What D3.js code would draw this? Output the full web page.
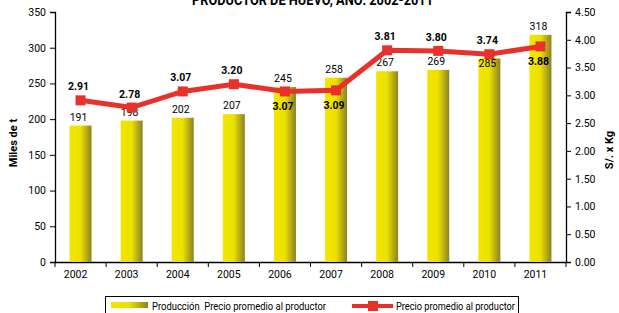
<!DOCTYPE html>
<html>
<head>
<meta charset="utf-8">
<script src="https://cdn.jsdelivr.net/npm/d3@7"></script>
<style>
  body { margin: 0; background: #fff; }
  svg text { font-family: Roboto, "Liberation Sans", sans-serif; white-space: pre; }
</style>
</head>
<body>
<div id="chart"></div>
<script>
// Data
var years = ["2002", "2003", "2004", "2005", "2006", "2007", "2008", "2009", "2010", "2011"];
var produccion = [191, 198, 202, 207, 245, 258, 267, 269, 285, 318];
var precio = [2.91, 2.78, 3.07, 3.20, 3.07, 3.09, 3.81, 3.80, 3.74, 3.88];
var precioLabelBelow = [false, false, false, false, true, true, false, false, false, true];
var barLabelInside = [false, false, false, false, false, false, false, false, true, false];
var leftTicks = [0, 50, 100, 150, 200, 250, 300, 350];
var rightTicks = [0, 0.5, 1, 1.5, 2, 2.5, 3, 3.5, 4, 4.5];

var svgWidth = 619;
var svgHeight = 313;

var margin = { top: 12, right: 53, bottom: 51, left: 55 };
var chartWidth = svgWidth - margin.left - margin.right;
var chartHeight = svgHeight - margin.top - margin.bottom;

var svg = d3.select("#chart")
  .append("svg")
  .attr("width", svgWidth)
  .attr("height", svgHeight);

// bar gradient: yellow to olive
var defs = svg.append("defs");
var grad = defs.append("linearGradient")
  .attr("id", "barGrad")
  .attr("x1", "0%").attr("x2", "100%").attr("y1", "0%").attr("y2", "0%");
grad.append("stop").attr("offset", "0%").attr("stop-color", "#f2e600");
grad.append("stop").attr("offset", "50%").attr("stop-color", "#ece000");
grad.append("stop").attr("offset", "100%").attr("stop-color", "#8c8124");

var chartGroup = svg.append("g")
  .attr("transform", `translate(${margin.left}, ${margin.top})`);

var xScale = d3.scaleBand()
  .domain(years)
  .range([0, chartWidth])
  .paddingInner(0.57)
  .paddingOuter(0.285);

var yLeft = d3.scaleLinear().domain([0, 350]).range([chartHeight, 0]);
var yRight = d3.scaleLinear().domain([0, 4.5]).range([chartHeight, 0]);

// axes
var bottomAxis = d3.axisBottom(xScale).tickSize(0).tickPadding(9);
var leftAxis = d3.axisLeft(yLeft).tickValues(leftTicks).tickSize(5).tickPadding(4);
var rightAxis = d3.axisRight(yRight).tickValues(rightTicks).tickSize(5).tickPadding(4)
  .tickFormat(d3.format(".2f"));

var xAxis = chartGroup.append("g")
  .attr("transform", `translate(0, ${chartHeight})`)
  .call(bottomAxis);
xAxis.selectAll("text").attr("dx", -5);

// x ticks between categories
chartGroup.append("g").selectAll("line")
  .data(d3.range(years.length + 1))
  .enter()
  .append("line")
  .attr("x1", d => d * chartWidth / years.length)
  .attr("x2", d => d * chartWidth / years.length)
  .attr("y1", chartHeight)
  .attr("y2", chartHeight + 5)
  .attr("stroke", "#000");

chartGroup.append("g").call(leftAxis);
chartGroup.append("g")
  .attr("transform", `translate(${chartWidth}, 0)`)
  .call(rightAxis);

chartGroup.selectAll(".domain").attr("stroke", "#000").attr("stroke-width", 1.3);
chartGroup.selectAll(".tick line").attr("stroke", "#000");
chartGroup.selectAll(".tick text").attr("font-size", 10.5).attr("fill", "#000");

// bars
chartGroup.selectAll(".bar")
  .data(produccion)
  .enter()
  .append("rect")
  .attr("class", "bar")
  .attr("x", (d, i) => xScale(years[i]))
  .attr("y", d => yLeft(d))
  .attr("width", xScale.bandwidth())
  .attr("height", d => chartHeight - yLeft(d))
  .attr("fill", "url(#barGrad)");

// bar labels
chartGroup.selectAll(".barLabel")
  .data(produccion)
  .enter()
  .append("text")
  .attr("class", "barLabel")
  .attr("text-anchor", "middle")
  .attr("font-size", 10.5)
  .attr("x", (d, i) => xScale(years[i]) + xScale.bandwidth() / 2 - 2)
  .attr("y", (d, i) => barLabelInside[i] ? yLeft(d) + 9 : yLeft(d) - 5)
  .text(d => d);

// price line
var line = d3.line()
  .x((d, i) => xScale(years[i]) + xScale.bandwidth() / 2)
  .y(d => yRight(d));

chartGroup.append("path")
  .datum(precio)
  .attr("fill", "none")
  .attr("stroke", "#e8312b")
  .attr("stroke-width", 5)
  .attr("d", line);

chartGroup.selectAll(".marker")
  .data(precio)
  .enter()
  .append("rect")
  .attr("class", "marker")
  .attr("x", (d, i) => xScale(years[i]) + xScale.bandwidth() / 2 - 5)
  .attr("y", d => yRight(d) - 5)
  .attr("width", 10)
  .attr("height", 10)
  .attr("fill", "#e8312b");

chartGroup.selectAll(".priceLabel")
  .data(precio)
  .enter()
  .append("text")
  .attr("class", "priceLabel")
  .attr("text-anchor", "middle")
  .attr("font-size", 10.5)
  .attr("font-weight", "bold")
  .attr("x", (d, i) => xScale(years[i]) + xScale.bandwidth() / 2 - 2)
  .attr("y", (d, i) => precioLabelBelow[i] ? yRight(d) + 19 : yRight(d) - 10)
  .text(d => d3.format(".2f")(d));

// title (cut off at the top, as in the original)
svg.append("text")
  .attr("x", 192)
  .attr("y", 5)
  .attr("font-size", 14)
  .attr("font-weight", "bold")
  .attr("textLength", 241)
  .attr("lengthAdjust", "spacingAndGlyphs")
  .text("PRODUCTOR DE HUEVO, AÑO: 2002-2011");

// axis titles
svg.append("text")
  .attr("transform", "rotate(-90)")
  .attr("x", -143)
  .attr("y", 17)
  .attr("text-anchor", "middle")
  .attr("font-size", 11)
  .attr("font-weight", "bold")
  .text("Miles de t");

svg.append("text")
  .attr("transform", "rotate(-90)")
  .attr("x", -150)
  .attr("y", 613)
  .attr("text-anchor", "middle")
  .attr("font-size", 11)
  .attr("font-weight", "bold")
  .text("S/. x Kg");

// legend
var legend = svg.append("g");
legend.append("rect")
  .attr("x", 105.5).attr("y", 296.5)
  .attr("width", 413).attr("height", 30)
  .attr("fill", "#fff").attr("stroke", "#000");
legend.append("rect")
  .attr("x", 111).attr("y", 302)
  .attr("width", 37).attr("height", 6)
  .attr("fill", "url(#barGrad)");
legend.append("text")
  .attr("x", 152).attr("y", 310)
  .attr("font-size", 11)
  .attr("textLength", 174)
  .attr("lengthAdjust", "spacingAndGlyphs")
  .text("Producción  Precio promedio al productor");
legend.append("line")
  .attr("x1", 352).attr("x2", 393)
  .attr("y1", 306).attr("y2", 306)
  .attr("stroke", "#e8312b").attr("stroke-width", 4);
legend.append("rect")
  .attr("x", 368).attr("y", 301)
  .attr("width", 10).attr("height", 10)
  .attr("fill", "#e8312b");
legend.append("text")
  .attr("x", 396).attr("y", 310)
  .attr("font-size", 11)
  .attr("textLength", 119)
  .attr("lengthAdjust", "spacingAndGlyphs")
  .text("Precio promedio al productor");
</script>
</body>
</html>
